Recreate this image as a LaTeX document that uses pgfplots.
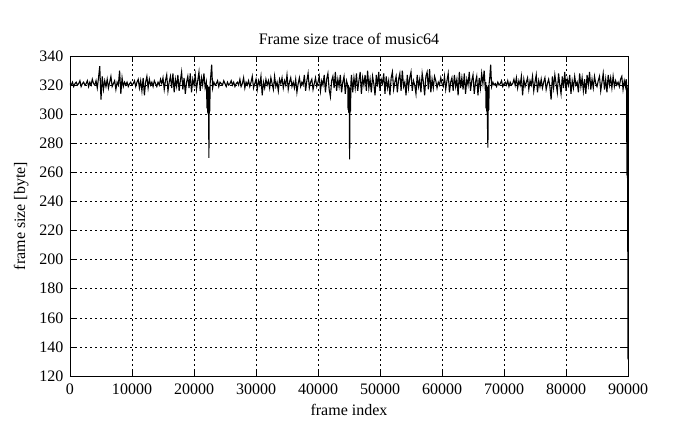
\documentclass[border=0pt]{standalone}
\usepackage{fontspec}
\setmainfont{Liberation Serif}
\usepackage{pgfplots}
\pgfplotsset{compat=1.18}

\begin{document}
\begin{tikzpicture}
\useasboundingbox (-70pt,-53pt) rectangle (625pt,376pt);
\begin{axis}[
    at={(0,0)}, anchor=south west,
    scale only axis,
    width=558pt, height=320pt,
    xmin=0, xmax=90000,
    ymin=120, ymax=340,
    xtick={0,10000,...,90000},
    ytick={120,140,...,340},
    scaled x ticks=false,
    /pgf/number format/1000 sep={},
    /pgf/number format/assume math mode=true,
    font=\fontsize{16}{18}\selectfont,
    ticklabel style={font=\fontsize{16}{18}\selectfont},
    title={Frame size trace of music64},
    xlabel={frame index},
    ylabel={frame size [byte]},
    title style={yshift=2pt},
    xlabel style={yshift=-3pt},
    ylabel style={yshift=4pt},
    xticklabel style={yshift=-4pt},
    yticklabel style={xshift=-3pt},
    axis line style={line width=0.8pt},
    major tick length=6pt,
    tick style={line width=0.6pt, black},
    tick align=inside,
    grid=major,
    grid style={black, line width=0.6pt, dash pattern=on 2pt off 3pt},
    clip=false,
]
\addplot[black, line width=1.1pt] coordinates {
(0,321) (200,320) (400,322) (600,319) (800,321)
(1000,322) (1200,320) (1400,321) (1600,323) (1800,319)
(2000,321) (2200,322) (2400,320) (2600,321) (2800,323)
(3000,319) (3200,322) (3400,320) (3600,324) (3800,321)
(4000,320) (4200,323) (4400,318) (4600,325) (4800,333)
(5000,310) (5200,326) (5400,317) (5600,323) (5800,319)
(6000,324) (6200,318) (6400,322) (6600,326) (6800,319)
(7000,321) (7200,323) (7400,317) (7600,322) (7800,320)
(8000,330) (8200,314) (8400,325) (8600,319) (8800,322)
(9000,320) (9200,322) (9400,319) (9600,321) (9800,322)
(10000,320) (10200,321) (10400,323) (10600,319) (10800,322)
(11000,324) (11200,318) (11400,323) (11600,316) (11800,325)
(12000,313) (12200,322) (12400,326) (12600,318) (12800,324)
(13000,320) (13200,322) (13400,319) (13600,323) (13800,321)
(14000,319) (14200,322) (14400,320) (14600,324) (14800,321)
(15000,325) (15200,317) (15400,323) (15600,327) (15800,316)
(16000,322) (16200,326) (16400,318) (16600,328) (16800,315)
(17000,324) (17200,319) (17400,327) (17600,316) (17800,323)
(18000,329) (18200,317) (18400,325) (18600,314) (18800,322)
(19000,326) (19200,318) (19400,328) (19600,315) (19800,324)
(20000,320) (20200,327) (20400,317) (20600,323) (20800,329)
(21000,316) (21200,325) (21400,320) (21600,328) (21800,318)
(22000,322) (22100,304) (22150,320) (22200,301) (22250,319) (22300,300)
(22350,318) (22400,270) (22450,300) (22500,319) (22550,302) (22600,321)
(22700,326) (22850,334) (23000,318)
(23200,322) (23400,320) (23600,321) (23800,323)
(24000,319) (24200,322) (24400,321) (24600,320) (24800,323)
(25000,321) (25200,319) (25400,322) (25600,320) (25800,321)
(26000,323) (26200,320) (26400,322) (26600,319) (26800,321)
(27000,322) (27200,320) (27400,324) (27600,319) (27800,321)
(28000,325) (28200,318) (28400,322) (28600,320) (28800,323)
(29000,319) (29200,322) (29400,326) (29600,318) (29800,321)
(30000,324) (30200,317) (30400,323) (30600,320) (30800,326)
(31000,313) (31200,322) (31400,318) (31600,324) (31800,320)
(32000,323) (32200,318) (32400,325) (32600,321) (32800,317)
(33000,326) (33200,319) (33400,322) (33600,316) (33800,324)
(34000,321) (34200,325) (34400,318) (34600,323) (34800,320)
(35000,327) (35200,317) (35400,322) (35600,325) (35800,319)
(36000,322) (36200,318) (36400,324) (36600,315) (36800,321)
(37000,325) (37200,319) (37400,322) (37600,320) (37800,327)
(38000,316) (38200,323) (38400,328) (38600,318) (38800,322)
(39000,324) (39200,317) (39400,321) (39600,325) (39800,319)
(40000,322) (40200,326) (40400,316) (40600,323) (40800,320)
(41000,327) (41200,315) (41400,324) (41600,328) (41800,317)
(42000,312) (42200,323) (42400,326) (42600,318) (42800,329)
(43000,316) (43200,324) (43400,319) (43600,327) (43800,315)
(44000,322) (44200,326) (44400,314) (44600,323) (44800,320)
(44850,303) (44900,320) (44950,301) (45000,319) (45050,300) (45100,269)
(45150,300) (45200,318) (45250,302) (45300,321) (45400,327)
(45600,315) (45800,325)
(46000,318) (46200,328) (46400,316) (46600,323) (46800,329)
(47000,314) (47200,325) (47400,320) (47600,327) (47800,316)
(48000,330) (48200,318) (48400,324) (48600,315) (48800,326)
(49000,321) (49200,313) (49400,327) (49600,319) (49800,329)
(50000,316) (50200,324) (50400,321) (50600,328) (50800,314)
(51000,326) (51200,318) (51400,323) (51600,313) (51800,325)
(52000,329) (52200,317) (52400,322) (52600,326) (52800,315)
(53000,324) (53200,328) (53400,316) (53600,330) (53800,319)
(54000,322) (54200,313) (54400,327) (54600,318) (54800,325)
(55000,329) (55200,316) (55400,323) (55600,320) (55800,314)
(56000,327) (56200,319) (56400,324) (56600,315) (56800,328)
(57000,322) (57200,313) (57400,326) (57600,329) (57800,317)
(58000,331) (58200,315) (58400,324) (58600,318) (58800,326)
(59000,323) (59200,318) (59400,322) (59600,320) (59800,325)
(60000,321) (60200,319) (60400,326) (60600,317) (60800,323)
(61000,328) (61200,315) (61400,322) (61600,325) (61800,316)
(62000,327) (62200,319) (62400,324) (62600,313) (62800,329)
(63000,318) (63200,325) (63400,317) (63600,328) (63800,314)
(64000,324) (64200,320) (64400,329) (64600,316) (64800,323)
(65000,327) (65200,314) (65400,322) (65600,326) (65800,313)
(66000,325) (66200,318) (66400,328) (66600,321) (66800,330)
(67000,316) (67050,322) (67100,304) (67150,320) (67200,302) (67250,319)
(67300,301) (67400,277) (67450,302) (67500,320) (67550,303) (67600,321)
(67700,325) (67850,334) (68000,319)
(68200,322) (68400,320) (68600,321) (68800,319)
(69000,322) (69200,320) (69400,321) (69600,323) (69800,319)
(70000,321) (70200,322) (70400,320) (70600,323) (70800,319)
(71000,322) (71200,320) (71400,321) (71600,324) (71800,320)
(72000,325) (72200,318) (72400,323) (72600,320) (72800,326)
(73000,313) (73200,324) (73400,319) (73600,322) (73800,325)
(74000,317) (74200,323) (74400,320) (74600,326) (74800,316)
(75000,322) (75200,327) (75400,315) (75600,323) (75800,319)
(76000,324) (76200,318) (76400,322) (76600,325) (76800,317)
(77000,321) (77200,324) (77400,319) (77600,310) (77800,326)
(78000,318) (78200,327) (78400,321) (78600,315) (78800,328)
(79000,320) (79200,314) (79400,326) (79600,318) (79800,329)
(80000,316) (80200,324) (80400,320) (80600,327) (80800,314)
(81000,323) (81200,318) (81400,326) (81600,320) (81800,322)
(82000,315) (82200,328) (82400,319) (82600,325) (82800,316)
(83000,324) (83200,314) (83400,327) (83600,320) (83800,329)
(84000,317) (84200,324) (84400,318) (84600,326) (84800,321)
(85000,319) (85200,323) (85400,326) (85600,316) (85800,322)
(86000,328) (86200,317) (86400,324) (86600,315) (86800,327)
(87000,320) (87200,325) (87400,318) (87600,326) (87800,319)
(88000,323) (88200,320) (88400,322) (88600,319) (88800,324)
(89000,326) (89200,317) (89400,323) (89600,319) (89700,324)
(89780,321) (89820,258) (89860,320) (89900,256) (89940,318) (89960,257)
(89970,182) (89980,132) (89990,180) (90000,134) (90020,179) (90040,133)
(90050,131)
};
\end{axis}
\end{tikzpicture}
\end{document}
